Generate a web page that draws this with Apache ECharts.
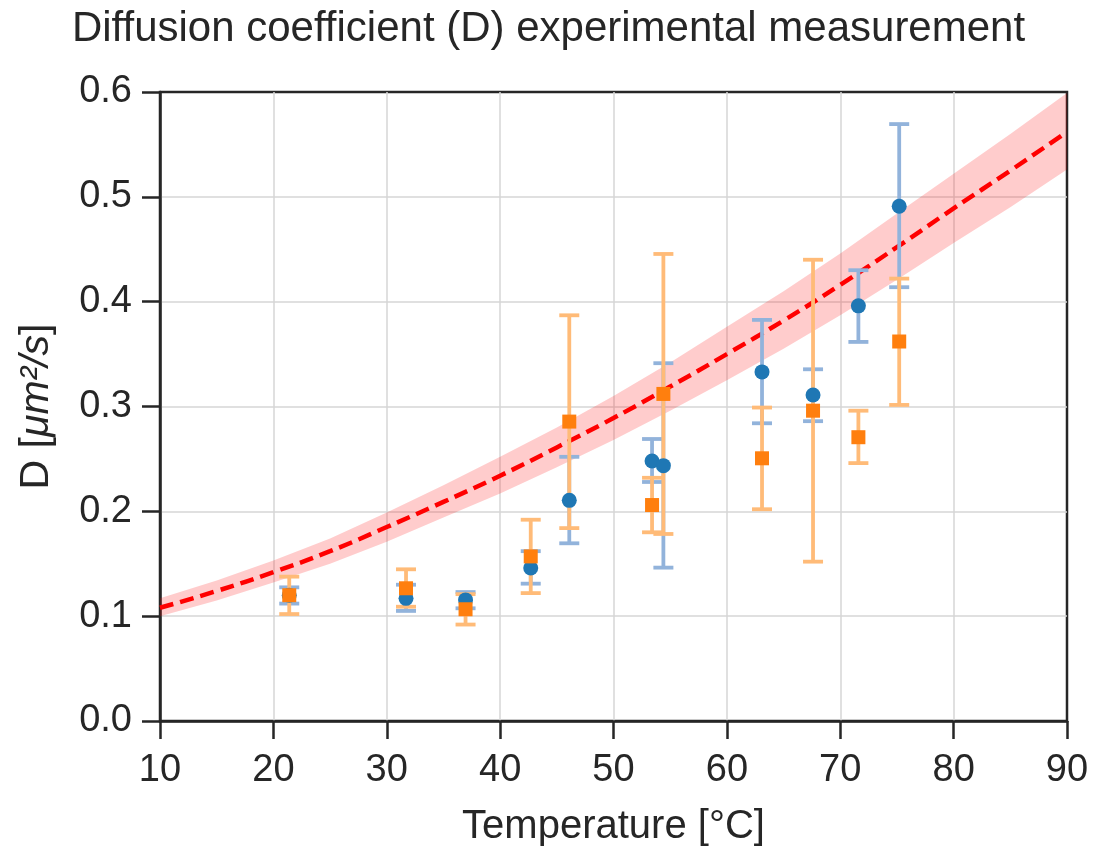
<!DOCTYPE html>
<html>
<head>
<meta charset="utf-8">
<script src="https://cdn.jsdelivr.net/npm/echarts@6/dist/echarts.min.js"></script>
<style>
	html, body { margin: 0; padding: 0; background: #fff; }
	#chart { width: 1097px; height: 849px; }
</style>
</head>
<body>
<div id="chart"></div>
<script>
// measured points (same temperatures for both runs)
var temps = [21.4, 31.7, 36.95, 42.7, 46.1, 53.4, 54.4, 63.1, 67.6, 71.6, 75.2];

var blueD  = [0.120, 0.117, 0.1155, 0.146, 0.2105, 0.248, 0.2436, 0.333, 0.311, 0.396, 0.491];
var blueLo = [0.112, 0.105, 0.1075, 0.131, 0.1695, 0.228, 0.1463, 0.284, 0.286, 0.3616, 0.4138];
var blueHi = [0.1275, 0.130, 0.123, 0.162, 0.252, 0.269, 0.3413, 0.3826, 0.3355, 0.430, 0.5694];

var orangeD  = [0.120, 0.1266, 0.1066, 0.157, 0.2856, 0.206, 0.312, 0.2506, 0.296, 0.2707, 0.362];
var orangeLo = [0.102, 0.109, 0.092, 0.122, 0.184, 0.180, 0.1784, 0.202, 0.152, 0.246, 0.3015];
var orangeHi = [0.1377, 0.1447, 0.121, 0.192, 0.387, 0.232, 0.4455, 0.299, 0.440, 0.296, 0.422];

// model curve + its band
var curveT  = [10, 15, 20, 25, 30, 35, 40, 45, 50, 55, 60, 65, 70, 75, 80, 85, 90];
var curveD  = [0.108, 0.124, 0.142, 0.162, 0.185, 0.209, 0.234, 0.261, 0.289, 0.319, 0.350, 0.382, 0.416, 0.452, 0.489, 0.525, 0.562];
var bandLo  = [0.100, 0.115, 0.132, 0.150, 0.171, 0.194, 0.217, 0.242, 0.268, 0.296, 0.325, 0.355, 0.387, 0.421, 0.456, 0.490, 0.526];
var bandHi  = [0.117, 0.134, 0.153, 0.174, 0.199, 0.225, 0.252, 0.280, 0.310, 0.342, 0.376, 0.410, 0.446, 0.484, 0.522, 0.560, 0.599];

var xTicks = [10, 20, 30, 40, 50, 60, 70, 80, 90];
var yTicks = [0.0, 0.1, 0.2, 0.3, 0.4, 0.5, 0.6];

var FONT = 'Liberation Sans';
var INK = '#262626';

function pairs(xs, ys) {
	var out = [];
	for (var i = 0; i < xs.length; i++) out.push([xs[i], ys[i]]);
	return out;
}

function errData(lo, hi) {
	var out = [];
	for (var i = 0; i < temps.length; i++) out.push([temps[i], lo[i], hi[i]]);
	return out;
}

function errRender(color) {
	return function (params, api) {
		var x = api.value(0);
		var top = api.coord([x, api.value(2)]);
		var bot = api.coord([x, api.value(1)]);
		var hw = 10;
		var st = { stroke: color, lineWidth: 3.8 };
		return {
			type: 'group',
			children: [
				{ type: 'line', shape: { x1: top[0], y1: top[1], x2: bot[0], y2: bot[1] }, style: st },
				{ type: 'line', shape: { x1: top[0] - hw, y1: top[1], x2: top[0] + hw, y2: top[1] }, style: st },
				{ type: 'line', shape: { x1: bot[0] - hw, y1: bot[1], x2: bot[0] + hw, y2: bot[1] }, style: st }
			]
		};
	};
}

// the shaded band: upper edge forward, lower edge back
function bandRender(params, api) {
	var pts = [];
	for (var i = 0; i < curveT.length; i++) pts.push(api.coord([curveT[i], bandHi[i]]));
	for (var j = curveT.length - 1; j >= 0; j--) pts.push(api.coord([curveT[j], bandLo[j]]));
	return {
		type: 'polygon',
		shape: { points: pts },
		style: { fill: 'rgba(255,0,0,0.2)' }
	};
}

var myChart = echarts.init(document.getElementById('chart'));

var axisCommon = {
	axisLine: { show: true, lineStyle: { color: INK, width: 2.5 } },
	axisTick: { show: true, length: 18, lineStyle: { color: INK, width: 2.5 } },
	splitLine: { show: true, showMinLine: false, showMaxLine: false, lineStyle: { color: '#d6d6d6', width: 1.5 } }
};

var options = {
	animation: false,
	textStyle: { fontFamily: FONT, color: INK },
	title: {
		text: 'Diffusion coefficient (D) experimental measurement',
		left: 'center',
		top: 3,
		textStyle: { fontFamily: FONT, fontSize: 42, fontWeight: 'normal', color: INK }
	},
	grid: {
		left: 160, right: 30, top: 92, bottom: 128,
		outerBoundsMode: 'none',
		show: true, borderColor: INK, borderWidth: 2.5, backgroundColor: 'transparent'
	},
	xAxis: {
		type: 'value',
		min: xTicks[0], max: xTicks[xTicks.length - 1], interval: 10,
		name: 'Temperature [°C]',
		nameLocation: 'middle',
		nameGap: 86,
		nameTextStyle: { fontFamily: FONT, fontSize: 40, color: INK },
		axisLine: axisCommon.axisLine,
		axisTick: axisCommon.axisTick,
		axisLabel: { fontFamily: FONT, fontSize: 38, color: INK, margin: 31 },
		splitLine: axisCommon.splitLine
	},
	yAxis: {
		type: 'value',
		min: yTicks[0], max: yTicks[yTicks.length - 1], interval: 0.1,
		name: 'D [{i|μm²/s}]',
		nameLocation: 'middle',
		nameGap: 103,
		nameTextStyle: {
			fontFamily: FONT, fontSize: 41, color: INK,
			rich: { i: { fontFamily: FONT, fontSize: 41, fontStyle: 'italic', color: INK } }
		},
		axisLine: axisCommon.axisLine,
		axisTick: axisCommon.axisTick,
		axisLabel: {
			fontFamily: FONT, fontSize: 38, color: INK, margin: 28,
			formatter: function (v) { return v.toFixed(1); }
		},
		splitLine: axisCommon.splitLine
	},
	series: [
		{
			type: 'custom', z: 1, silent: true, clip: true,
			renderItem: bandRender,
			data: [[curveT[0], curveD[0]]]
		},
		{
			type: 'line', z: 2, silent: true, smooth: true, showSymbol: false,
			lineStyle: { color: '#ff0000', width: 4.5, type: [14, 7] },
			data: pairs(curveT, curveD)
		},
		{
			type: 'custom', z: 3, silent: true,
			renderItem: errRender('#92b3db'),
			encode: { x: 0, y: [1, 2] },
			data: errData(blueLo, blueHi)
		},
		{
			type: 'custom', z: 4, silent: true,
			renderItem: errRender('#ffbb78'),
			encode: { x: 0, y: [1, 2] },
			data: errData(orangeLo, orangeHi)
		},
		{
			type: 'scatter', z: 5, symbol: 'circle', symbolSize: 15,
			itemStyle: { color: '#1f77b4', opacity: 1 },
			data: pairs(temps, blueD)
		},
		{
			type: 'scatter', z: 6, symbol: 'rect', symbolSize: 14,
			itemStyle: { color: '#ff7f0e', opacity: 1 },
			data: pairs(temps, orangeD)
		}
	]
};

myChart.setOption(options);
</script>
</body>
</html>
